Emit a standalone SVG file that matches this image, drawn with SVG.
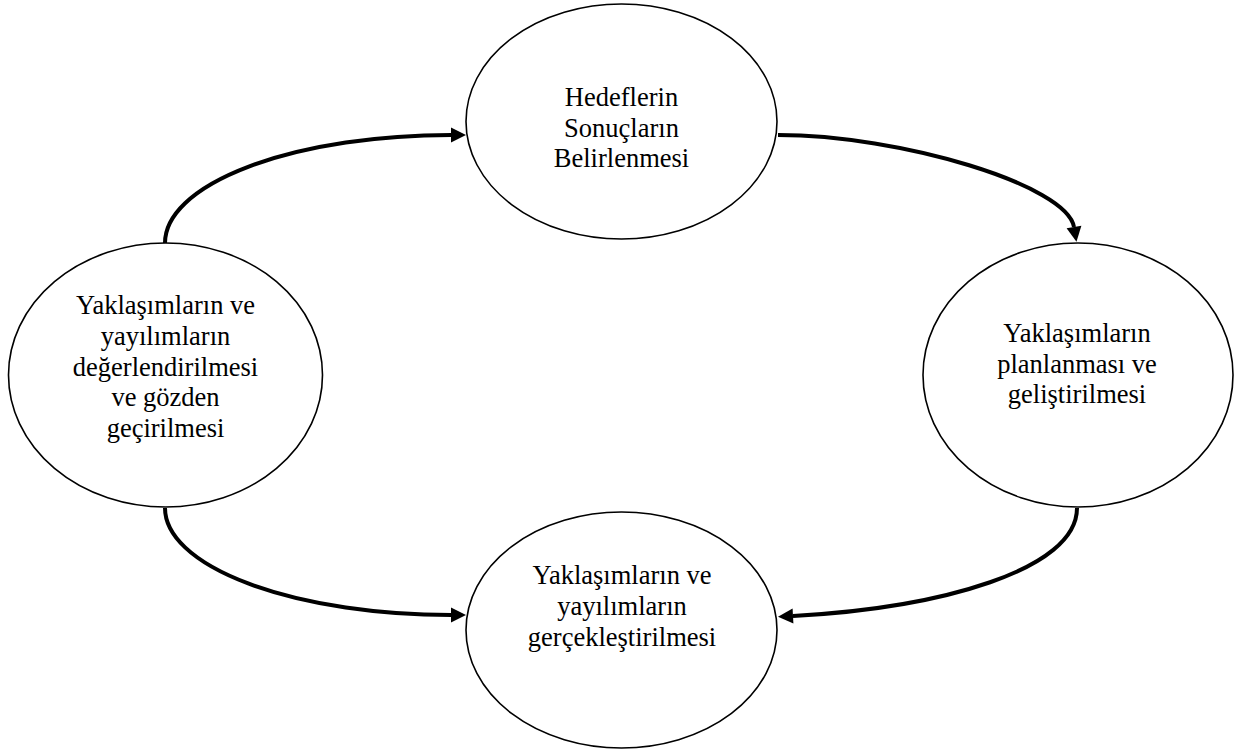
<svg xmlns="http://www.w3.org/2000/svg" width="1234" height="755" viewBox="0 0 1234 755">
<style>
.node ellipse{fill:#fff;stroke:#000;stroke-width:1.6}
.node text{font-family:"Liberation Serif","Times New Roman",serif;font-size:26.5px;fill:#000;text-anchor:middle}
.conn path{fill:none;stroke:#000;stroke-width:4}
</style>
<defs>
<marker id="ah" markerUnits="userSpaceOnUse" markerWidth="16" markerHeight="16" refX="0" refY="7.5" orient="auto" overflow="visible">
<path d="M0,0 L15,7.5 L0,15 z" fill="#000"/>
</marker>
</defs>
<rect width="1234" height="755" fill="#fff"/>
<g class="conn">
<path d="M165,243 A286,108 0 0 1 451,135" marker-end="url(#ah)"/>
<path d="M778,135 C900,135 1067,185 1074,227" marker-end="url(#ah)"/>
<path d="M165,508 A286,107 0 0 0 451,615" marker-end="url(#ah)"/>
<path d="M1077,508 C1077,570 940,608 793,616" marker-end="url(#ah)"/>
</g>
<g id="n-top" class="node">
<ellipse cx="621.5" cy="121.5" rx="155.5" ry="117.5"/>
<text x="621.5" y="106">Hedeflerin</text>
<text x="621.5" y="137">Sonuçların</text>
<text x="621.5" y="167">Belirlenmesi</text>
</g>
<g id="n-right" class="node">
<ellipse cx="1078" cy="375" rx="155" ry="132"/>
<text x="1077" y="342">Yaklaşımların</text>
<text x="1077" y="373">planlanması ve</text>
<text x="1077" y="403">geliştirilmesi</text>
</g>
<g id="n-bottom" class="node">
<ellipse cx="621.5" cy="630" rx="155.5" ry="118"/>
<text x="622" y="584">Yaklaşımların ve</text>
<text x="622" y="615">yayılımların</text>
<text x="622" y="646">gerçekleştirilmesi</text>
</g>
<g id="n-left" class="node">
<ellipse cx="165.5" cy="375" rx="157" ry="132"/>
<text x="165.5" y="314">Yaklaşımların ve</text>
<text x="165.5" y="345">yayılımların</text>
<text x="165.5" y="376">değerlendirilmesi</text>
<text x="165.5" y="406">ve gözden</text>
<text x="165.5" y="437">geçirilmesi</text>
</g>
</svg>
